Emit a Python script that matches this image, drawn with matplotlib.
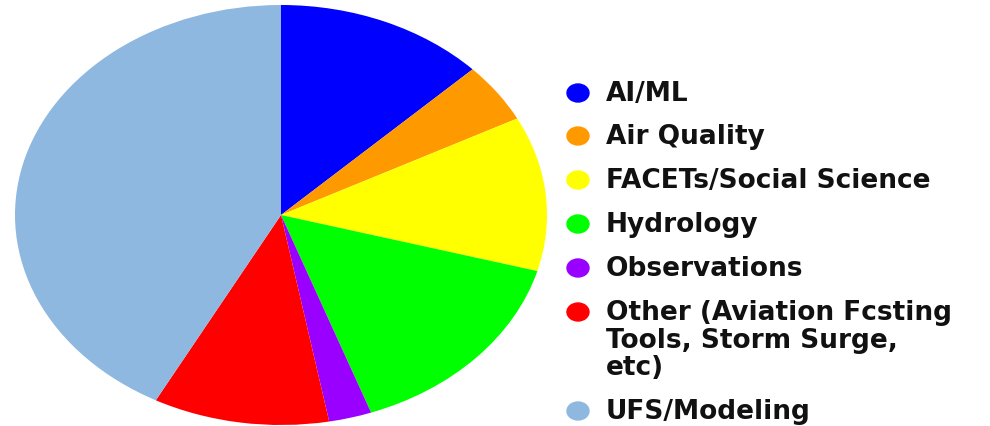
import matplotlib.pyplot as plt
from matplotlib.patches import Ellipse

# slice shares (percent)
categories = ['AI/ML', 'Air Quality', 'FACETs/Social Science', 'Hydrology',
              'Observations', 'Other (Aviation Fcsting\nTools, Storm Surge,\netc)',
              'UFS/Modeling']
shares = [12.8, 4.6, 11.9, 15.2, 2.6, 10.7, 42.2]
colors = ['#0000ff', '#ff9900', '#ffff00', '#00ff00', '#9900ff', '#ff0000', '#8eb8e0']

W, H = 990, 426
fig = plt.figure(figsize=(W / 100, H / 100), dpi=100)

# pie axes, stretched so the pie comes out as an ellipse like the original
ax = fig.add_axes([15 / W, 1 / H, 532 / W, 420 / H])
ax.pie(shares, colors=colors, startangle=90, counterclock=False,
       wedgeprops={'linewidth': 0})
ax.set_aspect('auto')
ax.set_xlim(-1, 1)
ax.set_ylim(-1, 1)
ax.axis('off')

# legend drawn by hand in pixel coords so the wrapped label lines up
lax = fig.add_axes([0, 0, 1, 1])
lax.set_xlim(0, W)
lax.set_ylim(H, 0)
lax.axis('off')
rows_y = [93, 136, 180, 224, 268, 312, 411]
for y, label, c in zip(rows_y, categories, colors):
    lax.add_patch(Ellipse((578, y), 22, 18, color=c))
    lax.text(606, y - 12, label, fontsize=19, fontweight='bold',
             va='top', ha='left', linespacing=1.08, color='#111111')

fig.savefig('out.png', dpi=100)
